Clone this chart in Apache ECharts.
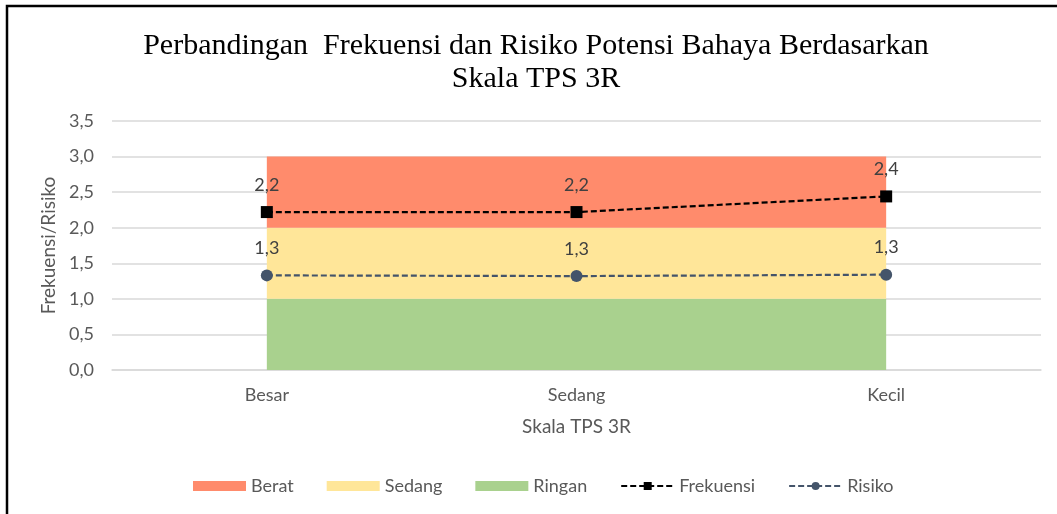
<!DOCTYPE html>
<html>
<head>
<meta charset="utf-8">
<script src="https://cdn.jsdelivr.net/npm/echarts@6/dist/echarts.min.js"></script>
<style>
    html, body { margin: 0; padding: 0; background: #fff; }
    #chart { width: 1057px; height: 514px; }
</style>
</head>
<body>
<div id="chart"></div>
<script>
// categories and values
var categories = ['Besar', 'Sedang', 'Kecil'];
var ringan = [1, 1, 1];
var sedang = [1, 1, 1];
var berat = [1, 1, 1];
var frekuensi = [2.22, 2.22, 2.44];
var risiko = [1.33, 1.32, 1.34];
var yTicks = { min: 0, max: 3.5, interval: 0.5 };

var labelFont = 'Lato, "Noto Sans", sans-serif';

function comma(v, digits) {
    return v.toFixed(digits).replace('.', ',');
}

function bandSeries(name, data, color) {
    return {
        name: name,
        type: 'line',
        stack: 'band',
        data: data,
        symbol: 'none',
        lineStyle: { width: 0, opacity: 0 },
        itemStyle: { color: color },
        areaStyle: { color: color, opacity: 1 },
        silent: true,
        z: 1
    };
}

var myChart = echarts.init(document.getElementById('chart'));

var option = {
    backgroundColor: '#fff',
    animation: false,
    graphic: [{
        type: 'rect',
        shape: { x: 7, y: 6, width: 1200, height: 700 },
        style: { fill: 'none', stroke: '#000', lineWidth: 2.5 },
        silent: true
    }, {
        // title, drawn as text so it can sit a bit right of centre like the reference
        type: 'text',
        x: 536,
        y: 30,
        style: {
            text: 'Perbandingan  Frekuensi dan Risiko Potensi Bahaya Berdasarkan\nSkala TPS 3R',
            fontFamily: '"Liberation Serif", "DejaVu Serif", serif',
            fontSize: 30,
            lineHeight: 33,
            fill: '#000',
            align: 'center',
            verticalAlign: 'top'
        },
        silent: true
    }],
    legend: {
        top: 472,
        left: 188,
        itemGap: 33,
        itemWidth: 53,
        itemHeight: 10,
        data: [
            { name: 'Berat', icon: 'rect' },
            { name: 'Sedang', icon: 'rect' },
            { name: 'Ringan', icon: 'rect' },
            'Frekuensi',
            'Risiko'
        ],
        textStyle: { fontFamily: labelFont, fontSize: 18, color: '#595959' }
    },
    grid: { left: 112, right: 16, top: 121, bottom: 144 },
    xAxis: {
        type: 'category',
        data: categories,
        boundaryGap: true,
        name: 'Skala TPS 3R',
        nameLocation: 'middle',
        nameGap: 47,
        nameTextStyle: { fontFamily: labelFont, fontSize: 19, color: '#595959' },
        axisLine: { show: true, lineStyle: { color: '#D9D9D9', width: 1.5 } },
        axisTick: { show: false },
        axisLabel: { margin: 16, fontFamily: labelFont, fontSize: 18, color: '#595959' }
    },
    yAxis: {
        type: 'value',
        min: yTicks.min,
        max: yTicks.max,
        interval: yTicks.interval,
        name: 'Frekuensi/Risiko',
        nameLocation: 'middle',
        nameGap: 54,
        nameTextStyle: { fontFamily: labelFont, fontSize: 19, color: '#595959' },
        axisLine: { show: false },
        axisTick: { show: false },
        splitLine: { lineStyle: { color: '#D9D9D9', width: 1.5 } },
        axisLabel: {
            margin: 18,
            fontFamily: labelFont,
            fontSize: 18,
            color: '#595959',
            formatter: function(v) { return comma(v, 1); }
        }
    },
    series: [
        bandSeries('Ringan', ringan, '#A9D18E'),
        bandSeries('Sedang', sedang, '#FFE699'),
        bandSeries('Berat', berat, '#FF8B6C'),
        {
            name: 'Frekuensi',
            type: 'line',
            data: frekuensi,
            symbol: 'rect',
            symbolSize: 12,
            itemStyle: { color: '#000' },
            lineStyle: { color: '#000', width: 2.2, type: [6, 3] },
            label: {
                show: true,
                position: 'top',
                distance: 12,
                fontFamily: labelFont,
                fontSize: 18,
                color: '#404040',
                formatter: function(p) { return comma(p.value, 1); }
            },
            z: 5
        },
        {
            name: 'Risiko',
            type: 'line',
            data: risiko,
            symbol: 'circle',
            symbolSize: 12,
            itemStyle: { color: '#44546A' },
            lineStyle: { color: '#44546A', width: 2.2, type: [6, 3] },
            label: {
                show: true,
                position: 'top',
                distance: 12,
                fontFamily: labelFont,
                fontSize: 18,
                color: '#404040',
                formatter: function(p) { return comma(p.value, 1); }
            },
            z: 5
        }
    ]
};

myChart.setOption(option);
</script>
</body>
</html>
